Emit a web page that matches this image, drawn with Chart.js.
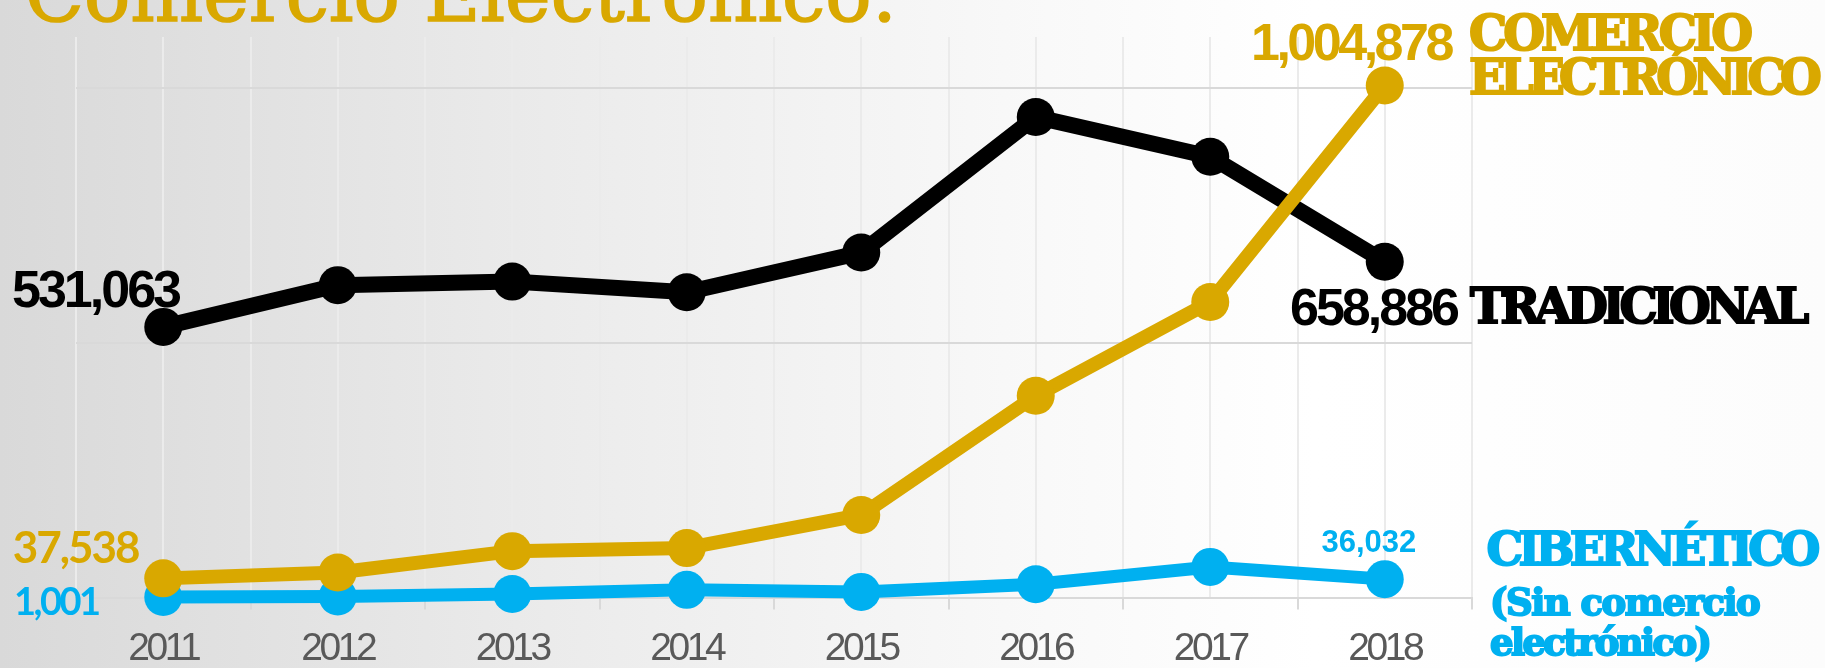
<!DOCTYPE html>
<html>
<head>
<meta charset="utf-8">
<script src="https://cdn.jsdelivr.net/npm/chart.js@4"></script>
<style>
  html, body { margin: 0; padding: 0; }
  body {
    width: 1825px; height: 668px; overflow: hidden; position: relative;
    background: linear-gradient(to right, #d9d9d9 0%, #ebebeb 30%, #f8f8f8 55%, #ffffff 72%, #fcfcfc 100%);
  }
  #wrap { position: absolute; left: 0; top: 0; width: 1825px; height: 668px; }
  .lbl { position: absolute; line-height: 0; white-space: nowrap; }
  .num { font-family: "Liberation Sans", Arial, sans-serif; font-weight: bold; }
  .slab { font-family: "DejaVu Serif", serif; font-weight: bold; -webkit-text-stroke: 2px currentColor; }
  .gold { color: #d9a800; }
  .blue { color: #00b0f0; }
  .black { color: #000; }
</style>
</head>
<body>
<div id="wrap"><canvas id="chart" width="1825" height="668"></canvas></div>

<div class="lbl gold" style="font-family:'DejaVu Serif',serif;font-size:77px;left:25px;top:-4.6px;-webkit-text-stroke:1.6px #d9a800;">Comercio Electrónico:</div>

<div class="lbl num gold" style="font-size:52px;letter-spacing:-3.5px;left:1251px;top:42px;">1,004,878</div>
<div class="lbl slab gold" style="font-size:48px;letter-spacing:-4px;left:1469px;top:33.4px;">COMERCIO</div>
<div class="lbl slab gold" style="font-size:48px;letter-spacing:-5.6px;left:1469px;top:76.7px;">ELECTRÓNICO</div>

<div class="lbl num black" style="font-size:52px;letter-spacing:-3px;left:12px;top:288.7px;">531,063</div>
<div class="lbl num black" style="font-size:52px;letter-spacing:-3px;left:1290px;top:307px;">658,886</div>
<div class="lbl slab black" style="font-size:48px;letter-spacing:-5.5px;left:1470px;top:306.4px;">TRADICIONAL</div>

<div class="lbl gold" style="font-family:Lato,sans-serif;font-weight:bold;font-size:44px;letter-spacing:-2px;left:12.7px;top:546.3px;">37,538</div>
<div class="lbl blue" style="font-family:Lato,sans-serif;font-weight:bold;font-size:38px;letter-spacing:-2.5px;left:14px;top:600.3px;">1,001</div>
<div class="lbl num blue" style="font-size:31px;left:1321.5px;top:542.3px;">36,032</div>
<div class="lbl slab blue" style="font-size:46px;letter-spacing:-4.6px;left:1486.5px;top:549.1px;">CIBERNÉTICO</div>
<div class="lbl slab blue" style="font-size:37px;letter-spacing:-1.5px;left:1490px;top:602.2px;-webkit-text-stroke:2px #00b0f0;">(Sin comercio</div>
<div class="lbl slab blue" style="font-size:37px;letter-spacing:-2.6px;left:1490px;top:642.2px;-webkit-text-stroke:2px #00b0f0;">electrónico)</div>

<script>
// years on the x axis
const years = ["2011", "2012", "2013", "2014", "2015", "2016", "2017", "2018"];

// series values (ends are labelled)
const comercioElectronico = [37538, 49000, 91000, 97000, 162000, 396000, 580000, 1004878];
const tradicional = [531063, 613000, 620000, 599000, 677000, 943000, 865000, 658886];
const cibernetico = [1001, 2000, 7000, 15000, 11000, 26000, 60000, 36032];

// y grid values
const yGridTicks = [0, 500000, 1000000];
const yMax = 1100000;

const GOLD = "#d9a800";
const BLUE = "#00b0f0";
const BLACK = "#000000";

function lineSet(label, data, color, width) {
    return {
        label: label,
        data: data,
        borderColor: color,
        backgroundColor: color,
        borderWidth: width,
        pointRadius: 19,
        pointHoverRadius: 19,
        pointBorderWidth: 0,
        pointBackgroundColor: color,
        tension: 0,
        fill: false,
        clip: false
    };
}

// tighter year labels (the original uses a narrow face)
const narrowTicks = {
    id: "narrowTicks",
    beforeDraw(chart) { chart.ctx.letterSpacing = "-3.5px"; },
    afterDraw(chart) { chart.ctx.letterSpacing = "0px"; }
};

new Chart(document.getElementById("chart"), {
    type: "line",
    data: {
        labels: years,
        datasets: [
            lineSet("Comercio electrónico", comercioElectronico, GOLD, 14),
            lineSet("Tradicional", tradicional, BLACK, 16),
            lineSet("Cibernético", cibernetico, BLUE, 13)
        ]
    },
    plugins: [narrowTicks],
    options: {
        responsive: false,
        animation: false,
        devicePixelRatio: 1,
        layout: { padding: { left: 76, right: 353, top: 37, bottom: 0 } },
        plugins: {
            legend: { display: false },
            tooltip: { enabled: false },
            title: { display: false }
        },
        scales: {
            x: {
                type: "category",
                position: "bottom",
                offset: true,
                grid: {
                    offset: true,
                    color: "#ebebeb",
                    lineWidth: 2,
                    tickColor: "#d9d9d9",
                    tickLength: 12,
                    drawTicks: true
                },
                border: { display: true, color: "#d9d9d9", width: 2 },
                ticks: {
                    color: "#595959",
                    padding: 16,
                    maxRotation: 0,
                    autoSkip: false,
                    font: { family: "'Liberation Sans', Arial, sans-serif", size: 39 }
                },
                afterFit: function (scale) { scale.height = 70.5; }
            },
            x2: {
                type: "category",
                axis: "x",
                labels: years,
                position: "top",
                offset: true,
                grid: { offset: false, color: "#ebebeb", lineWidth: 2, drawTicks: false },
                border: { display: false },
                ticks: { display: false }
            },
            y: {
                min: 0,
                max: yMax,
                afterBuildTicks: function (scale) {
                    scale.ticks = yGridTicks.map(v => ({ value: v }));
                },
                grid: { color: "#d9d9d9", lineWidth: 2, drawTicks: false },
                border: { display: false },
                ticks: { display: false }
            }
        }
    }
});
</script>
</body>
</html>
